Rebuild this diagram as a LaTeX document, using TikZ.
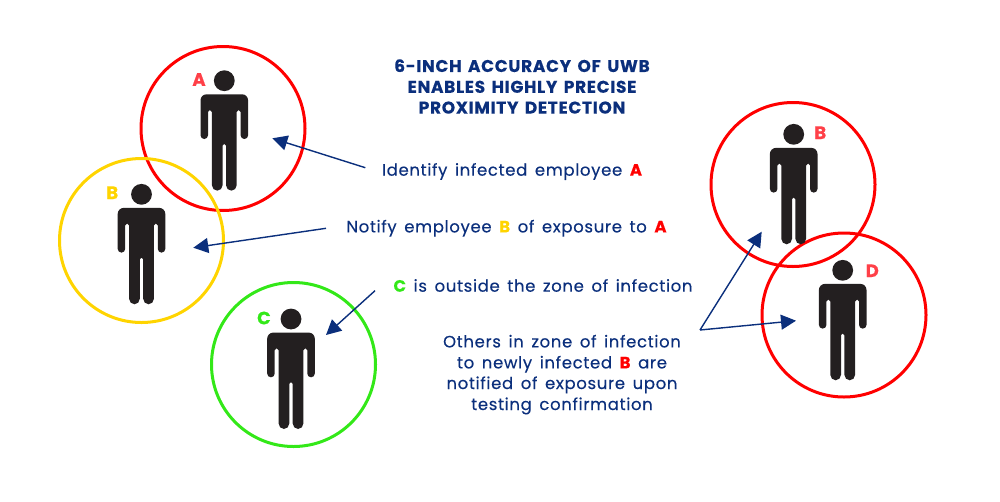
\documentclass[tikz,border=0pt]{standalone}
\usepackage{fontspec}
\usepackage{xcolor}
\usepackage{tikz}
\usetikzlibrary{arrows.meta,positioning,calc}
\newfontfamily\uwbfont[LetterSpace=4,WordSpace=1.5,FakeBold=0.3]{Poppins}
\definecolor{uwbnavy}{HTML}{0B2F7C}
\definecolor{infred}{HTML}{FF0000}
\definecolor{tagred}{HTML}{FF4048}
\definecolor{expyellow}{HTML}{FFD400}
\definecolor{safegreen}{HTML}{33E818}
\definecolor{figblack}{HTML}{231F20}
\tikzset{
  >={Triangle[length=15pt,width=15pt]},
  ring/.style={draw=#1, circle, line width=3pt, minimum size=164pt, inner sep=0pt},
  tag/.style={text=#1, inner sep=0pt, font=\uwbfont\bfseries\fontsize{18}{20}\selectfont},
  note/.style={text=uwbnavy, inner sep=0pt, anchor=base, align=center, font=\uwbfont\fontsize{16.5}{21}\selectfont},
  headline/.style={text=uwbnavy, inner sep=0pt, align=center, font=\uwbfont\bfseries\fontsize{17}{20.8}\selectfont},
  ptr/.style={->, draw=uwbnavy, fill=uwbnavy, line width=1.4pt},
  person/.pic={
    \fill[figblack] (0,0) circle[radius=10.4pt];
    \fill[figblack]
      (0,13.6) [rounded corners=6pt] -- (23.8,13.6) [rounded corners=3.7pt] -- (23.8,58.3) -- (16.3,58.3)
      [rounded corners=1.9pt] -- (16.3,29.3) -- (12.4,29.3)
      [rounded corners=5.5pt] -- (12.4,110) -- (1.7,110)
      [rounded corners=1.6pt] -- (1.7,63.3) -- (-1.7,63.3)
      [rounded corners=5.5pt] -- (-1.7,110) -- (-12.4,110)
      [rounded corners=1.9pt] -- (-12.4,29.3) -- (-16.3,29.3)
      [rounded corners=3.7pt] -- (-16.3,58.3) -- (-23.8,58.3)
      [rounded corners=6pt] -- (-23.8,13.6) [sharp corners] -- (0,13.6) -- cycle;
  },
}
\begin{document}
\begin{tikzpicture}[x=1pt,y=-1pt]
  \useasboundingbox (0,0) rectangle (1000,501);
  \node[ring=infred] (ringa) at (223,128.5) {};
  \node[ring=expyellow] (ringb) at (141.5,240.5) {};
  \node[ring=safegreen] (ringc) at (293.5,364.5) {};
  \node[ring=infred] (ringnb) at (793,184.5) {};
  \node[ring=infred] (ringd) at (844,315) {};
  \pic at (224.3,80.7) {person};
  \pic at (141.5,194.3) {person};
  \pic at (291,319) {person};
  \pic at (793.7,134.3) {person};
  \pic at (842.7,270.3) {person};
  \node[tag=tagred] (taga) at (199,79.5) {A};
  \node[tag=expyellow] (tagb) at (112.3,192.7) {B};
  \node[tag=safegreen] (tagc) at (264,318) {C};
  \node[tag=tagred] (tagnb) at (820.3,132.7) {B};
  \node[tag=tagred] (tagd) at (872.3,270.7) {D};
  \node[headline] (title) at (522,86.5) {6-INCH ACCURACY OF UWB\\ENABLES HIGHLY PRECISE\\PROXIMITY DETECTION};
  \node[note] (identify) at (512,175.7) {Identify infected employee \textcolor{infred}{\bfseries A}};
  \node[note] (notify) at (506.5,232.4) {Notify employee \textcolor{expyellow}{\bfseries B} of exposure to \textcolor{infred}{\bfseries A}};
  \node[note] (outside) at (543,291.7) {\textcolor{safegreen}{\bfseries C} is outside the zone of infection};
  \node[note] (others1) at (562,347.4) {Others in zone of infection};
  \node[note] (others2) at (562,368.4) {to newly infected \textcolor{infred}{\bfseries B} are};
  \node[note] (others3) at (562,389) {notified of exposure upon};
  \node[note] (others4) at (562,410) {testing confirmation};
  \coordinate (ida) at (365.3,167.7);
  \coordinate (tipa) at (272.3,138.3);
  \coordinate (nob) at (326,228.3);
  \coordinate (tipb) at (193.3,247.7);
  \coordinate (outc) at (375,290.7);
  \coordinate (tipc) at (326,335);
  \coordinate (fork) at (700,330);
  \coordinate (tipnb) at (761.7,231.7);
  \coordinate (tipd) at (796,320.7);
  \draw[ptr] (ida) -- (tipa);
  \draw[ptr] (nob) -- (tipb);
  \draw[ptr] (outc) -- (tipc);
  \draw[ptr] (fork) -- (tipnb);
  \draw[ptr] (fork) -- (tipd);
\end{tikzpicture}
\end{document}
